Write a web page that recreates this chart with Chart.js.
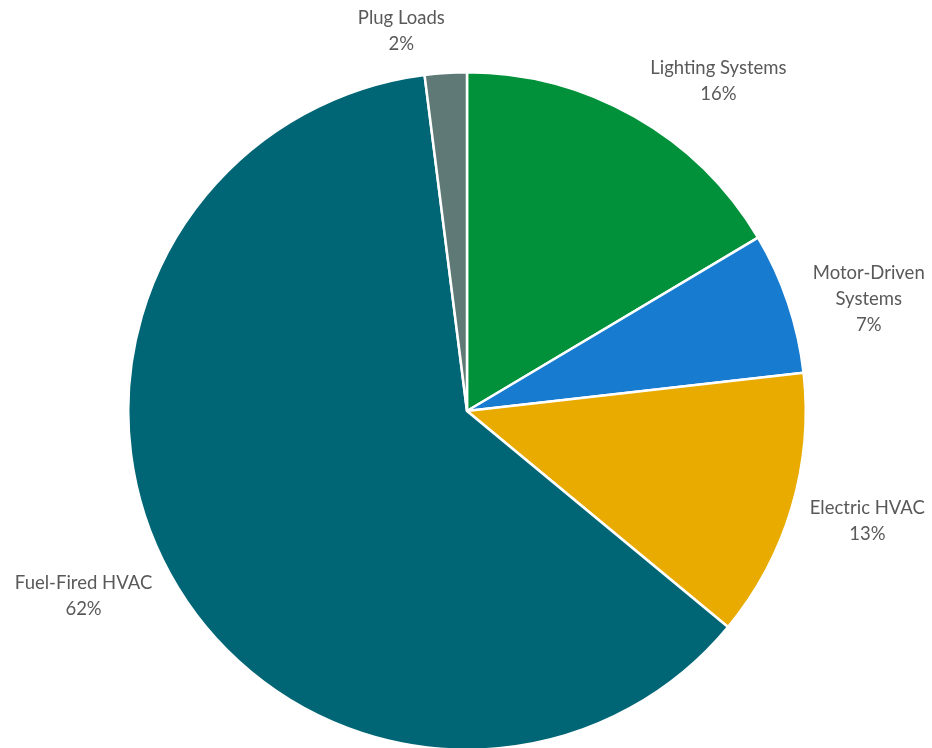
<!DOCTYPE html>
<html>
<head>
<meta charset="utf-8">
<script src="https://cdn.jsdelivr.net/npm/chart.js@4.4.1/dist/chart.umd.min.js"></script>
<style>
  html, body { margin: 0; padding: 0; background: #fff; overflow: hidden; }
  #wrap { width: 932px; height: 752px; }
</style>
</head>
<body>
<div id="wrap"><canvas id="pie" width="932" height="752"></canvas></div>
<script>
// slices, clockwise from 12 o'clock
const categories = [['Lighting Systems'], ['Motor-Driven', 'Systems'], ['Electric HVAC'], ['Fuel-Fired HVAC'], ['Plug Loads']];
const shares = [16.45, 6.75, 12.8, 62.0, 2.0];
const sliceColors = ['#00913A', '#177BCF', '#E9AB00', '#006675', '#5F7A76'];

// small angle nudges (degrees) so labels sit roughly where Excel put them
const labelNudge = [7.7, 3.0, -1.2, 3, -6.2];

const outsideLabels = {
  id: 'outsideLabels',
  afterDatasetsDraw(chart) {
    const ctx = chart.ctx;
    const meta = chart.getDatasetMeta(0);
    const total = shares.reduce((a, b) => a + b, 0);
    const lineH = 26;
    ctx.save();
    ctx.font = '18.5px Lato, "Open Sans", sans-serif';
    ctx.fillStyle = '#595959';
    ctx.textAlign = 'center';
    ctx.textBaseline = 'middle';
    meta.data.forEach((arc, i) => {
      const p = arc.getProps(['x', 'y', 'startAngle', 'endAngle', 'outerRadius'], true);
      const lines = categories[i].concat([Math.round(shares[i] / total * 100) + '%']);
      const w = Math.max(...lines.map(t => ctx.measureText(t).width));
      const h = lines.length * lineH;
      // angle measured from the top, clockwise
      const mid = (p.startAngle + p.endAngle) / 2 + Math.PI / 2 + labelNudge[i] * Math.PI / 180;
      const s = Math.sin(mid), c = Math.cos(mid);
      const dist = p.outerRadius + 14 + Math.abs(s) * w / 2 + Math.abs(c) * h / 2;
      const cx = p.x + dist * s;
      const cy = p.y - dist * c;
      lines.forEach((t, k) => {
        ctx.fillText(t, cx, cy - h / 2 + lineH / 2 + k * lineH);
      });
    });
    ctx.restore();
  }
};

new Chart(document.getElementById('pie').getContext('2d'), {
  type: 'pie',
  data: {
    labels: categories.map(l => l.join(' ')),
    datasets: [{
      data: shares,
      backgroundColor: sliceColors,
      borderColor: '#ffffff',
      borderWidth: 2.5
    }]
  },
  options: {
    responsive: false,
    animation: false,
    layout: { padding: { top: 71, bottom: 1, left: 2, right: 0 } },
    plugins: {
      legend: { display: false },
      tooltip: { enabled: false }
    }
  },
  plugins: [outsideLabels]
});
</script>
</body>
</html>
